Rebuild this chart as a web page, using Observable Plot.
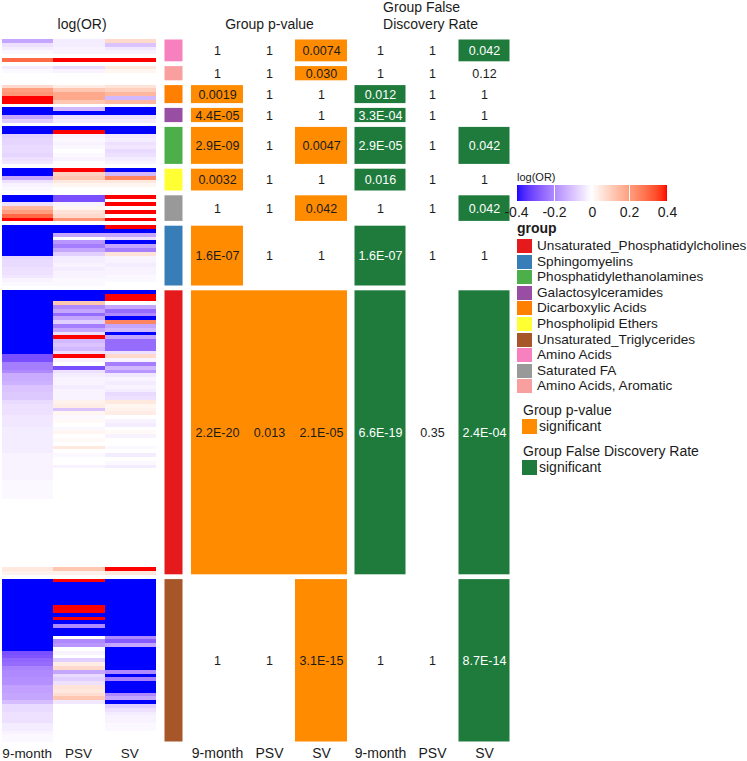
<!DOCTYPE html>
<html>
<head>
<meta charset="utf-8">
<script src="https://cdn.jsdelivr.net/npm/d3@7"></script>
<script src="https://cdn.jsdelivr.net/npm/@observablehq/plot@0.6"></script>
<style>
  body { margin: 0; background: #fff; font-family: "Liberation Sans", Arial, sans-serif; color: #1b1b1b; }
  #root { position: relative; width: 747px; height: 761px; overflow: hidden; background: #fff; }
  .abs { position: absolute; white-space: nowrap; }
  .lg-text { font-size: 13.6px; line-height: 16px; }
</style>
</head>
<body>
<div id="root"></div>
<script>
// ---------------- DATA ----------------
const groups = ["Amino Acids", "Amino Acids, Aromatic", "Dicarboxylic Acids", "Galactosylceramides",
  "Phosphatidylethanolamines", "Phospholipid Ethers", "Saturated FA", "Sphingomyelins",
  "Unsaturated_Phosphatidylcholines", "Unsaturated_Triglycerides"];
const groupSizes = [6, 4, 5, 4, 10, 6, 7, 16, 75, 43];
const conditions = ["9-month", "PSV", "SV"];

const legendGroups = ["Unsaturated_Phosphatidylcholines", "Sphingomyelins", "Phosphatidylethanolamines",
  "Galactosylceramides", "Dicarboxylic Acids", "Phospholipid Ethers", "Unsaturated_Triglycerides",
  "Amino Acids", "Saturated FA", "Amino Acids, Aromatic"];
const legendColors = ["#E41A1C", "#377EB8", "#4DAF4A", "#984EA3", "#FF7F00", "#FFFF33", "#A65628",
  "#F781BF", "#999999", "#FA9FA0"];

// log(OR), one value per row, rows grouped in the order of `groups`
const logOR_9month = [
  -0.15, -0.05, -0.03, -0.01, 0, 0.3,
  -0.03, -0.01, 0, 0,
  0.08, 0.2, 0.22, 0.4, 0.4,
  -0.4, -0.4, -0.15, -0.08,
  -0.4, -0.4, -0.08, -0.07, -0.07, -0.06, -0.06, -0.07, -0.05, -0.04,
  -0.4, -0.4, -0.15, -0.05, -0.02, -0.01,
  -0.4, -0.4, -0.05, 0.15, 0.2, 0.3, 0.4,
  -0.4, -0.4, -0.4, -0.4, -0.4, -0.4, -0.4, -0.4, -0.07, -0.06, -0.06, -0.05, -0.05, -0.04, -0.02, -0.01,
  -0.4, -0.4, -0.4, -0.4, -0.4, -0.4, -0.4, -0.4, -0.4, -0.4, -0.4, -0.4, -0.4, -0.4, -0.4, -0.4, -0.4,
  -0.3, -0.3, -0.22, -0.22, -0.2, -0.14, -0.14, -0.13, -0.1, -0.1, -0.09, -0.09,
  -0.06, -0.05, -0.05, -0.05, -0.04,
  -0.04, -0.04, -0.03, -0.03, -0.03, -0.03, -0.03, -0.03, -0.03, -0.02, -0.02,
  -0.02, -0.02, -0.02, -0.02, -0.02, -0.01, -0.01, -0.01, -0.01, -0.01,
  0, 0, 0, 0, 0, 0, 0, 0, 0, 0, 0, 0, 0, 0, 0, 0, 0, 0, 0.05, 0.03,
  -0.4, -0.4, -0.4, -0.4, -0.4, -0.4, -0.4, -0.4, -0.4, -0.4, -0.4, -0.4, -0.4, -0.4, -0.4, -0.4, -0.4, -0.4, -0.4,
  -0.3, -0.29, -0.26, -0.25, -0.21, -0.2, -0.2, -0.19, -0.19, -0.16, -0.16, -0.15, -0.15, -0.11,
  -0.06, -0.06, -0.05, -0.05, -0.05, -0.03, -0.03, -0.02, -0.01, -0.01
];
const logOR_PSV = [
  -0.03, -0.03, -0.02, -0.02, 0, 0.4,
  -0.06, -0.02, 0, 0,
  0.04, 0.12, 0.18, 0.18, 0.12,
  -0.12, -0.4, -0.05, -0.03,
  -0.4, 0.4, -0.02, -0.01, -0.02, -0.01, 0, -0.01, -0.02, 0,
  0.4, 0.1, 0.12, 0.05, 0.02, 0,
  -0.3, -0.3, -0.02, 0.02, 0.06, 0.08, 0.22,
  -0.4, -0.4, -0.15, 0, -0.18, -0.22, -0.15, -0.08, -0.03, -0.03, -0.02, -0.03, -0.02, -0.02, -0.01, -0.01,
  -0.4, -0.4, -0.4, 0.12, -0.2, -0.15, -0.25, -0.15, -0.08, -0.22, -0.15, -0.05, 0.4, -0.12, -0.1, -0.12,
  -0.05, 0.4, -0.02, 0, -0.3, -0.05,
  -0.03, -0.02, -0.02, -0.03, -0.02, -0.02, -0.02, 0.03, 0.04, -0.1, 0.02,
  -0.01, 0.01, 0, -0.01, 0.02, 0, 0.01, 0, 0.05,
  0, -0.01, 0, 0, -0.02, 0, 0, 0,
  0, 0, 0, 0, 0, 0, 0, 0, 0, 0, 0, 0, 0, 0, 0, 0, 0, 0, 0, 0, 0, 0, 0, 0.12, 0.03,
  0.4, -0.4, -0.4, -0.4, -0.4, -0.4, -0.4, 0.4, 0.4, -0.4, 0.4, -0.4, -0.2, -0.4, -0.4, 0, -0.2, -0.18,
  0, -0.02, 0, -0.08, 0.04, 0.08, -0.15, -0.06, -0.08, -0.05, 0.06, 0.05, 0.07, 0.12, -0.04,
  0, 0, 0, 0, 0, 0, 0, 0, 0, 0
];
const logOR_SV = [
  0.08, -0.1, -0.04, -0.02, 0, 0.4,
  0.05, 0.02, 0, 0,
  0.06, 0.1, 0.15, -0.12, 0.15,
  -0.4, -0.4, -0.05, -0.03,
  -0.4, -0.4, -0.04, -0.03, -0.05, -0.04, -0.06, -0.05, -0.03, -0.02,
  -0.4, -0.12, 0.25, 0.05, 0.02, 0,
  0.4, 0, 0.4, 0, 0.4, 0, 0.4,
  0.4, -0.4, -0.15, -0.05, -0.4, -0.15, -0.22, 0.06, -0.02, -0.02, -0.03, -0.02, -0.02, -0.01, -0.01, 0,
  -0.4, 0.4, 0.4, 0, -0.15, -0.25, -0.2, -0.4, 0.25, -0.15, -0.12, -0.4, -0.15, -0.25, -0.25, -0.25,
  -0.05, 0.08, -0.02, -0.22, -0.12, -0.18, -0.04,
  -0.02, -0.03, -0.02, -0.03, -0.06, -0.05, 0.05, 0.02, 0.03, 0.04, 0, -0.02, -0.03,
  0, 0.01, -0.02, 0, 0, -0.01, 0, -0.03, 0, -0.01, -0.03,
  0, 0, 0, 0, 0, 0, 0, 0, 0, 0, 0, 0, 0, 0, 0, 0, 0, 0, 0, 0, 0, 0, 0, 0, 0, 0, 0.4, 0.05,
  -0.4, -0.4, -0.4, -0.4, -0.4, -0.4, -0.4, -0.4, -0.4, -0.4, -0.4, -0.4, -0.4, -0.4, -0.4,
  -0.2, -0.28, -0.15, -0.4, -0.4, -0.4, -0.4, -0.4, -0.4, -0.2, -0.4, -0.22, -0.4, -0.4, -0.4,
  -0.2, -0.15, -0.4, -0.08, -0.05, -0.03, -0.02, -0.02, -0.01, -0.01, 0, 0, 0
];

// Group statistics (order of `groups`)
const pvalue9month = ["1", "1", "0.0019", "4.4E-05", "2.9E-09", "0.0032", "1", "1.6E-07", "2.2E-20", "1"];
const pvaluePSV    = ["1", "1", "1", "1", "1", "1", "1", "1", "0.013", "1"];
const pvalueSV     = ["0.0074", "0.030", "1", "1", "0.0047", "1", "0.042", "1", "2.1E-05", "3.1E-15"];
const fdr9month    = ["1", "1", "0.012", "3.3E-04", "2.9E-05", "0.016", "1", "1.6E-07", "6.6E-19", "1"];
const fdrPSV       = ["1", "1", "1", "1", "1", "1", "1", "1", "0.35", "1"];
const fdrSV        = ["0.042", "0.12", "1", "1", "0.042", "1", "0.042", "1", "2.4E-04", "8.7E-14"];

const heatTicks = [-0.4, -0.2, 0, 0.2, 0.4];

// ---------------- BUILD ----------------
const FONT = '"Liberation Sans", Arial, sans-serif';
const INK = "#1b1b1b";
const ORANGE = "#FF8C00";
const GREEN = "#1E7B3C";

const blocks = [];
let pos = 0;
groups.forEach((g, i) => {
  blocks.push({group: g, y1: pos, y2: pos + groupSizes[i]});
  pos += groupSizes[i] + 1;
});
const totalUnits = pos - 1;

const series = [logOR_9month, logOR_PSV, logOR_SV];
const cells = [];
let row = 0;
blocks.forEach((b, gi) => {
  for (let k = 0; k < groupSizes[gi]; k++) {
    series.forEach((arr, ci) => cells.push({ci, y1: b.y1 + k, y2: b.y1 + k + 1, v: arr[row]}));
    row++;
  }
});

const heatColor = {type: "linear", domain: [-0.4, 0, 0.4], range: ["#0000FF", "#FFFFFF", "#FF0000"],
  interpolate: d3.interpolateLab, clamp: true};
const yScale = {domain: [0, totalUnits], range: [39, 742], axis: null};
const baseStyle = {fontFamily: FONT, fontSize: "14px", color: INK, background: "transparent", overflow: "visible"};

const root = document.getElementById("root");
function place(node, left, top, width) {
  const d = document.createElement("div");
  d.className = "abs";
  d.style.left = left + "px";
  d.style.top = top + "px";
  if (width) d.style.width = width + "px";
  d.appendChild(node);
  root.appendChild(d);
  return d;
}

// Heatmap
const heat = Plot.plot({
  width: 160, height: 761, margin: 0,
  x: {domain: [0, 3], range: [2, 156], axis: null},
  y: yScale,
  color: heatColor,
  style: baseStyle,
  marks: [
    Plot.rect(cells, {x1: "ci", x2: d => d.ci + 1, y1: "y1", y2: "y2", fill: "v", shapeRendering: "crispEdges"}),
    Plot.text(conditions, {x: (d, i) => i + 0.48, frameAnchor: "bottom", lineAnchor: "bottom", dy: -4, fontSize: 13.5, fill: INK}),
    Plot.text(["log(OR)"], {x: 1.55, frameAnchor: "top", lineAnchor: "bottom", dy: 28, fontSize: 14, fill: INK})
  ]
});
place(heat, 0, 0, 160);

// Group annotation bar
const grp = Plot.plot({
  width: 28, height: 761, margin: 0,
  x: {domain: [0, 1], range: [4, 23], axis: null},
  y: yScale,
  color: {domain: legendGroups, range: legendColors},
  style: baseStyle,
  marks: [
    Plot.rect(blocks, {x1: 0, x2: 1, y1: "y1", y2: "y2", fill: "group", inset: 0.5})
  ]
});
place(grp, 160, 0, 28);

function statData(a, b, c) {
  const out = [];
  blocks.forEach((bl, i) => [a, b, c].forEach((arr, ci) =>
    out.push({ci, y1: bl.y1, y2: bl.y2, label: arr[i], sig: Number(arr[i]) < 0.05})));
  return out;
}
const pData = statData(pvalue9month, pvaluePSV, pvalueSV);
const fData = statData(fdr9month, fdrPSV, fdrSV);

const pPlot = Plot.plot({
  width: 162, height: 761, margin: 0,
  x: {domain: [0, 3], range: [3, 159], axis: null},
  y: yScale,
  style: baseStyle,
  marks: [
    Plot.rect(pData.filter(d => d.sig), {x1: "ci", x2: d => d.ci + 1, y1: "y1", y2: "y2", fill: ORANGE, insetTop: 0.5, insetBottom: 0.5}),
    Plot.text(pData, {x: d => d.ci + 0.5, y: d => (d.y1 + d.y2) / 2, text: "label", fill: INK, fontSize: 12.5}),
    Plot.text(conditions, {x: (d, i) => i + 0.5, frameAnchor: "bottom", lineAnchor: "bottom", dy: -4, fontSize: 14, fill: INK}),
    Plot.text(["Group p-value"], {x: 1.5, frameAnchor: "top", lineAnchor: "bottom", dy: 28, fontSize: 14, fill: INK})
  ]
});
place(pPlot, 188, 0, 162);

const fPlot = Plot.plot({
  width: 164, height: 761, margin: 0,
  x: {domain: [0, 3], range: [4, 160], axis: null},
  y: yScale,
  style: baseStyle,
  marks: [
    Plot.rect(fData.filter(d => d.sig), {x1: "ci", x2: d => d.ci + 1, y1: "y1", y2: "y2", fill: GREEN, insetTop: 0.5, insetBottom: 0.5, insetLeft: 0.5, insetRight: 0.5}),
    Plot.text(fData, {x: d => d.ci + 0.5, y: d => (d.y1 + d.y2) / 2, text: "label", fill: d => d.sig ? "#ffffff" : INK, fontSize: 12.5}),
    Plot.text(conditions, {x: (d, i) => i + 0.5, frameAnchor: "bottom", lineAnchor: "bottom", dy: -4, fontSize: 14, fill: INK}),
    Plot.text(["Group False\nDiscovery Rate"], {x: 0.55, textAnchor: "start", frameAnchor: "top", lineAnchor: "top", lineHeight: 1.2, dy: 0, fontSize: 14, fill: INK})
  ]
});
place(fPlot, 350, 0, 164);

// Colour bar legend
const lab = document.createElement("div");
lab.textContent = "log(OR)";
lab.style.fontSize = "11px";
lab.style.lineHeight = "12px";
place(lab, 517, 171);

const ramp = Plot.legend({
  color: {...heatColor, ticks: heatTicks, tickFormat: d => String(d), label: null},
  width: 179, height: 50, marginLeft: 14, marginRight: 14, marginTop: 14, marginBottom: 20,
  tickSize: 3, ticks: heatTicks, tickFormat: d => String(d), label: null,
  style: {fontFamily: FONT, fontSize: "14px", color: INK, background: "transparent", overflow: "visible"}
});
ramp.querySelectorAll(".tick line").forEach(l => { l.setAttribute("stroke", "#ffffff"); l.setAttribute("stroke-width", "1"); });
place(ramp, 502, 171, 179);

// Group legend
const gTitle = document.createElement("div");
gTitle.textContent = "group";
gTitle.style.cssText = "font-size:14px;font-weight:bold;line-height:14px;";
place(gTitle, 517, 221);
legendGroups.forEach((g, i) => {
  const top = 239 + i * 15.6;
  const sw = document.createElement("div");
  sw.style.cssText = `width:15px;height:14px;background:${legendColors[i]};`;
  place(sw, 517, top);
  const t = document.createElement("div");
  t.className = "lg-text";
  t.textContent = g;
  t.style.lineHeight = "14px";
  place(t, 537, top);
});

// Significance legends
function sigLegend(title, color, top) {
  const tt = document.createElement("div");
  tt.className = "lg-text";
  tt.style.fontSize = "14px";
  tt.textContent = title;
  place(tt, 523, top);
  const sw = document.createElement("div");
  sw.style.cssText = `width:15px;height:15px;background:${color};`;
  place(sw, 522, top + 17);
  const s = document.createElement("div");
  s.className = "lg-text";
  s.style.fontSize = "14px";
  s.textContent = "significant";
  s.style.lineHeight = "15px";
  place(s, 539, top + 17);
}
sigLegend("Group p-value", ORANGE, 402);
sigLegend("Group False Discovery Rate", GREEN, 443);
</script>
</body>
</html>
